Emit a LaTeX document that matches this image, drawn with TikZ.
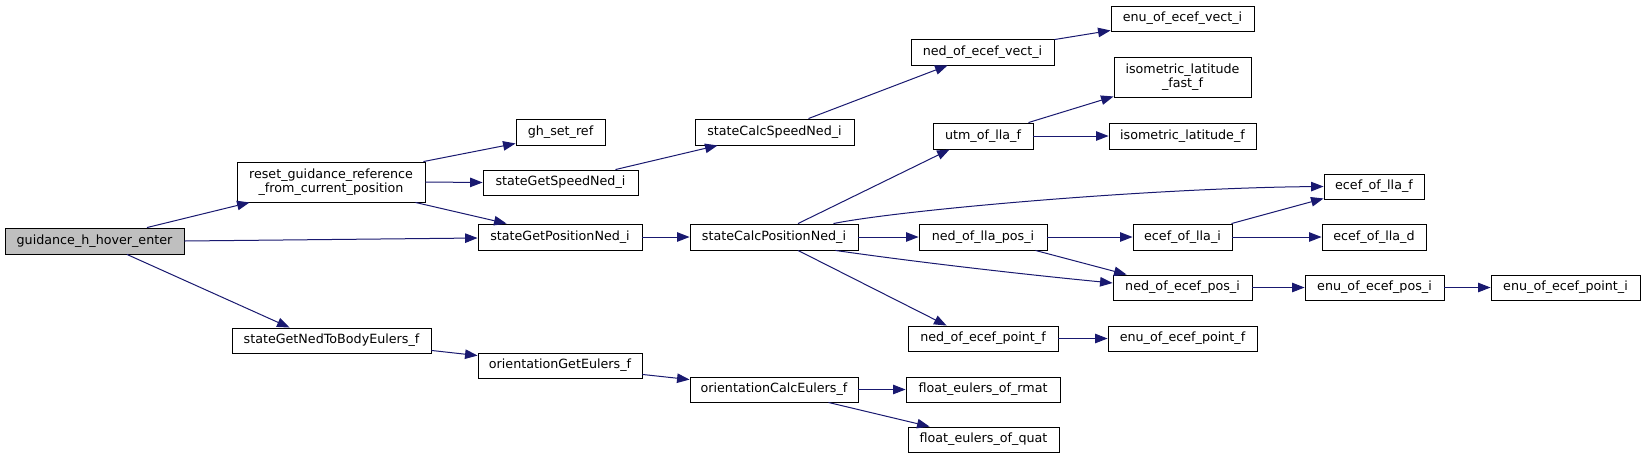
\documentclass[tikz,border=0pt]{standalone}
\usepackage{fontspec}
\setmainfont{DejaVu Sans}
\usetikzlibrary{arrows.meta}
\definecolor{edgeblue}{HTML}{191970}
\definecolor{rootgray}{HTML}{BFBFBF}
\begin{document}
\begin{tikzpicture}[x=1pt,y=-1pt,
  fbox/.style={draw=black,line width=0.9pt,fill=white,inner sep=0pt,
    font=\fontsize{12.7}{14.5}\selectfont,align=center},
  call/.style={draw=edgeblue,line width=1pt,-{Triangle[length=12.5pt,width=9.5pt]}}]
\fill[white] (0,0) rectangle (1645,459);
\useasboundingbox (0,0) rectangle (1645,459);
% nodes
\node[fbox,fill=rootgray,minimum width=179pt,minimum height=26pt] (guid) at (94.5,241) {guidance\_h\_hover\_enter};
\node[fbox,minimum width=188pt,minimum height=40pt] (reset) at (331,182) {reset\_guidance\_reference\\\_from\_current\_position};
\node[fbox,minimum width=199pt,minimum height=25pt] (sgnb) at (331.5,340.5) {stateGetNedToBodyEulers\_f};
\node[fbox,minimum width=89pt,minimum height=26pt] (ghset) at (560.5,132) {gh\_set\_ref};
\node[fbox,minimum width=159pt,minimum height=26pt] (scsn) at (774.5,132) {stateCalcSpeedNed\_i};
\node[fbox,minimum width=155pt,minimum height=25pt] (sgsn) at (560.5,182.5) {stateGetSpeedNed\_i};
\node[fbox,minimum width=164pt,minimum height=26pt] (sgpn) at (560,237) {stateGetPositionNed\_i};
\node[fbox,minimum width=168pt,minimum height=26pt] (scpn) at (774,237) {stateCalcPositionNed\_i};
\node[fbox,minimum width=164pt,minimum height=25pt] (oge) at (560,365.5) {orientationGetEulers\_f};
\node[fbox,minimum width=168pt,minimum height=25pt] (oce) at (774,389.5) {orientationCalcEulers\_f};
\node[fbox,minimum width=143pt,minimum height=25pt] (enuvect) at (1182.5,18.5) {enu\_of\_ecef\_vect\_i};
\node[fbox,minimum width=143pt,minimum height=26pt] (nedvect) at (982.5,52) {ned\_of\_ecef\_vect\_i};
\node[fbox,minimum width=137pt,minimum height=40pt] (isofast) at (1182.5,77) {isometric\_latitude\\\_fast\_f};
\node[fbox,minimum width=100pt,minimum height=26pt] (utm) at (983,136) {utm\_of\_lla\_f};
\node[fbox,minimum width=147pt,minimum height=26pt] (iso) at (1182.5,136) {isometric\_latitude\_f};
\node[fbox,minimum width=128pt,minimum height=26pt] (nedllapos) at (983,237) {ned\_of\_lla\_pos\_i};
\node[fbox,minimum width=99pt,minimum height=26pt] (ecefllai) at (1182.5,237) {ecef\_of\_lla\_i};
\node[fbox,minimum width=139pt,minimum height=25pt] (nedecefpos) at (1182.5,287.5) {ned\_of\_ecef\_pos\_i};
\node[fbox,minimum width=150pt,minimum height=25pt] (nedecefpointf) at (983,338.5) {ned\_of\_ecef\_point\_f};
\node[fbox,minimum width=149pt,minimum height=25pt] (enuecefpointf) at (1182.5,338.5) {enu\_of\_ecef\_point\_f};
\node[fbox,minimum width=154pt,minimum height=25pt] (rmat) at (983,389.5) {float\_eulers\_of\_rmat};
\node[fbox,minimum width=151pt,minimum height=25pt] (quat) at (983.5,439.5) {float\_eulers\_of\_quat};
\node[fbox,minimum width=100pt,minimum height=25pt] (llaf) at (1374,186.5) {ecef\_of\_lla\_f};
\node[fbox,minimum width=104pt,minimum height=26pt] (llad) at (1374,237) {ecef\_of\_lla\_d};
\node[fbox,minimum width=139pt,minimum height=25pt] (enuecefpos) at (1374.5,287.5) {enu\_of\_ecef\_pos\_i};
\node[fbox,minimum width=149pt,minimum height=25pt] (enuecefpointi) at (1565.5,287.5) {enu\_of\_ecef\_point\_i};
% edges
\draw[call] ([xshift=52.5pt]guid.north) -- ([xshift=13pt]reset.south west);
\draw[call] (guid.east) -- ([yshift=-1pt]sgpn.west);
\draw[call] ([xshift=32.5pt]guid.south) -- ([xshift=58pt]sgnb.north west);
\draw[call] ([xshift=-2pt]reset.north east) -- ([yshift=2pt]ghset.south west);
\draw[call] (reset.east) -- (sgsn.west);
\draw[call] ([xshift=-10pt]reset.south east) -- ([xshift=29pt]sgpn.north west);
\draw[call] ([xshift=-23pt]sgsn.north east) -- ([xshift=23pt]scsn.south west);
\draw[call] (sgpn.east) -- (scpn.west);
\draw[call] ([xshift=-46pt]scsn.north east) -- ([xshift=37pt]nedvect.south west);
\draw[call] ([yshift=-1pt]nedvect.north east) -- ([yshift=1pt]enuvect.south west);
\draw[call] ([xshift=24pt]scpn.north) -- ([xshift=17pt]utm.south west);
\draw[call] ([xshift=-25pt]scpn.north east) .. controls (900,210) and (1150,188) .. (llaf.west);
\draw[call] (scpn.east) -- (nedllapos.west);
\draw[call] ([xshift=-23pt]scpn.south east) .. controls (930,264) and (1040,276) .. ([yshift=4.5pt]nedecefpos.west);
\draw[call] ([xshift=24pt]scpn.south) -- ([xshift=39pt]nedecefpointf.north west);
\draw[call] (nedllapos.east) -- (ecefllai.west);
\draw[call] ([xshift=-12pt]nedllapos.south east) -- ([xshift=14pt]nedecefpos.north west);
\draw[call] ([xshift=-1pt]ecefllai.north east) -- ([yshift=1pt]llaf.south west);
\draw[call] (ecefllai.east) -- (llad.west);
\draw[call] (nedecefpos.east) -- (enuecefpos.west);
\draw[call] (enuecefpos.east) -- (enuecefpointi.west);
\draw[call] (nedecefpointf.east) -- (enuecefpointf.west);
\draw[call] ([xshift=-5pt]utm.north east) -- ([yshift=1pt]isofast.south west);
\draw[call] (utm.east) -- (iso.west);
\draw[call] ([yshift=3pt]sgnb.south east) -- ([yshift=-3pt]oge.north west);
\draw[call] ([yshift=4pt]oge.south east) -- ([yshift=-3pt]oce.north west);
\draw[call] (oce.east) -- (rmat.west);
\draw[call] ([xshift=-30pt]oce.south east) -- ([xshift=22pt]quat.north west);
\end{tikzpicture}
\end{document}
